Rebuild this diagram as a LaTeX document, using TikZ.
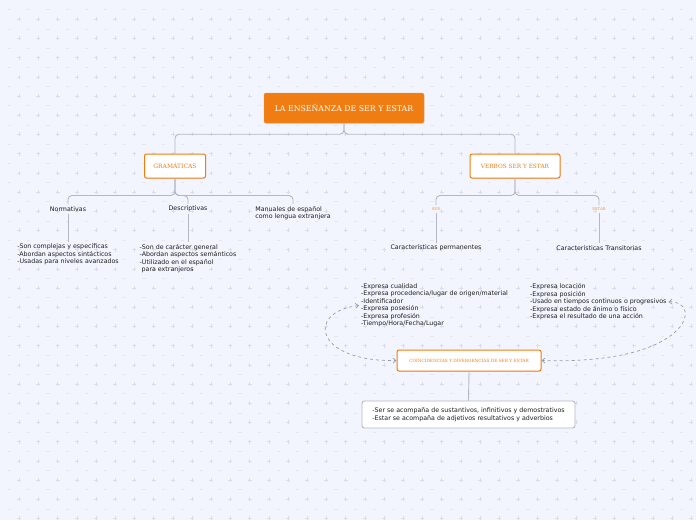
\documentclass[tikz,border=0pt]{standalone}
\usepackage{fontspec}
\setmainfont{DejaVu Sans}
\newfontfamily\titlefont{DejaVu Serif}
\usetikzlibrary{arrows.meta, positioning, shadows}
\definecolor{MapOrange}{RGB}{240, 125, 18}
\definecolor{MapBack}{RGB}{242, 245, 253}
\definecolor{MapPlus}{RGB}{217, 222, 235}
\definecolor{MapLine}{RGB}{180, 184, 196}
\definecolor{MapText}{RGB}{30, 30, 30}

\tikzset{
  rootbox/.style={fill=MapOrange, draw=MapOrange!85!white, rounded corners=2pt, text=white,
    font=\titlefont\fontsize{7.8}{8}\selectfont, inner sep=2pt,
    drop shadow={opacity=0.18, shadow xshift=0.6pt, shadow yshift=-0.8pt}},
  topicbox/.style={fill=white, draw=MapOrange, line width=1pt, rounded corners=2pt, text=MapOrange,
    inner sep=2pt, drop shadow={opacity=0.15, shadow xshift=0.6pt, shadow yshift=-0.8pt}},
  leaf/.style={text=MapText, font=\fontsize{6.3}{7.5}\selectfont, inner sep=2pt, align=left},
  tinylabel/.style={text=MapOrange!85!white, font=\titlefont\fontsize{3.8}{4}\selectfont, inner sep=2pt},
  branch/.style={draw=MapLine, line width=0.9pt, rounded corners=4pt},
  relation/.style={draw=MapLine!85!black, line width=0.7pt, dashed,
    {Straight Barb[length=3pt,width=5pt]}-{Straight Barb[length=3pt,width=5pt]}}
}

\begin{document}
\begin{tikzpicture}[x=1pt,y=-1pt]
  \path[use as bounding box] (0,0) rectangle (696,520);
  \fill[MapBack] (0,0) rectangle (696,520);
  % dotted plus pattern
  \draw[MapPlus, line width=0.6pt]
    \foreach \x in {1,...,36} {\foreach \y in {1,...,27}
      {(\x*19.2-2,\y*19.2) -- (\x*19.2+2,\y*19.2) (\x*19.2,\y*19.2-2) -- (\x*19.2,\y*19.2+2)}};
  \draw[MapPlus!60!MapBack, line width=0.5pt]
    \foreach \x in {1,...,36} {\foreach \y in {1,...,27}
      {(\x*19.2-11.2,\y*19.2-9.6) -- (\x*19.2-8,\y*19.2-9.6)}};

  % root
  \node[rootbox, minimum width=160, minimum height=30] (root) at (344,108) {LA ENSEÑANZA DE SER Y ESTAR};

  % main topics
  \node[topicbox, minimum width=61, minimum height=24,
        font=\titlefont\fontsize{6}{6}\selectfont] (gram) at (175,166) {GRAMÁTICAS};
  \node[topicbox, minimum width=90, minimum height=24,
        font=\titlefont\fontsize{5.8}{6}\selectfont] (verbos) at (515,166) {VERBOS SER Y ESTAR};
  \draw[branch] (root.south) -- ++(0,11) -| (gram.north);
  \draw[branch] (root.south) -- ++(0,11) -| (verbos.north);

  % gramaticas
  \node[leaf] (normat) at (68,209) {Normativas};
  \node[leaf] (descrip) at (188,209) {Descriptivas};
  \node[leaf] (manuales) at (293,213) {Manuales de español\\como lengua extranjera};
  \draw[branch] (gram.south) -- ++(0,17) -| (normat.north);
  \draw[branch] (gram.south) -- ++(0,17) -| (descrip.north);
  \draw[branch] (gram.south) -- ++(0,17) -| (manuales.north);

  \node[leaf] (normlist) at (68,254.5) {-Son complejas y específicas\\-Abordan aspectos sintácticos\\-Usadas para niveles avanzados};
  \node[leaf] (desclist) at (188,258.5) {-Son de carácter general\\-Abordan aspectos semánticos\\-Utilizado en el español\\\hspace{2pt}para extranjeros};
  \draw[branch] (normat.south) -- (normlist.north);
  \draw[branch] (descrip.south) -- (desclist.north);

  % verbos ser y estar
  \node[tinylabel] (ser) at (436,209) {SER};
  \node[tinylabel] (estar) at (599,209) {ESTAR};
  \draw[branch] (verbos.south) -- ++(0,17) -| (ser.north);
  \draw[branch] (verbos.south) -- ++(0,17) -| (estar.north);

  \node[leaf] (perm) at (436,248) {Características permanentes};
  \node[leaf] (trans) at (599,248) {Características Transitorias};
  \draw[branch] (ser.south) -- (perm.north);
  \draw[branch] (estar.south) -- (trans.north);

  \node[leaf, anchor=north west] (serlist) at (359,281.5) {-Expresa cualidad\\-Expresa procedencia/lugar de origen/material\\-Identificador\\-Expresa posesión\\-Expresa profesión\\-Tiempo/Hora/Fecha/Lugar};
  \node[leaf, anchor=north west] (estarlist) at (528,281.5) {-Expresa locación\\-Expresa posición\\-Usado en tiempos continuos o progresivos\\-Expresa estado de ánimo o físico\\-Expresa el resultado de una acción};

  % coincidencias
  \node[topicbox, minimum width=144, minimum height=21,
        font=\titlefont\fontsize{4.3}{5}\selectfont] (coinc) at (469,360.5) {COINCIDENCIAS Y DIVERGENCIAS DE SER Y ESTAR};
  \node[leaf, draw=MapLine, line width=0.9pt, fill=white, rounded corners=2.5pt,
        minimum width=213, minimum height=27, inner xsep=8pt] (notes) at (468.5,414.5)
    {-Ser se acompaña de sustantivos, infinitivos y demostrativos\\-Estar se acompaña de adjetivos resultativos y adverbios};
  \draw[branch] (coinc.south) -- (notes.north);

  \draw[relation] (serlist.west) .. controls (305,312) and (315,362) .. (coinc.west);
  \draw[relation] (estarlist.east) .. controls (703,300) and (693,365) .. (coinc.east);
\end{tikzpicture}
\end{document}
